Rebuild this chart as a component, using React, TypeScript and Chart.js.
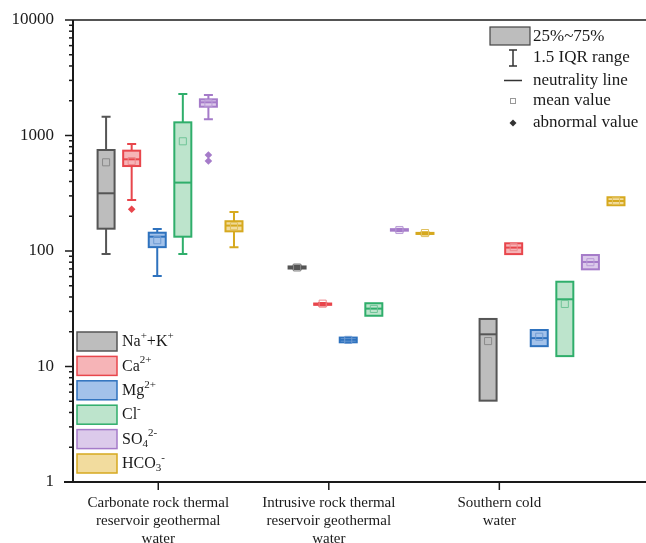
import React, { useEffect, useRef } from "react";
import { Chart, registerables } from "chart.js";

Chart.register(...registerables);

// ---------- DATA ----------
const categoryLines: string[][] = [
  ["Carbonate rock thermal", "reservoir geothermal", "water"],
  ["Intrusive rock thermal", "reservoir geothermal", "water"],
  ["Southern cold", "water"],
];
const categoryValues = [1, 2, 3];
const yTickValues = [1, 10, 100, 1000, 10000];
const yTickLabels = ["1", "10", "100", "1000", "10000"];

// legend label pieces: [text, mode]
const ionLabels: [string, string][][] = [
  [["Na", "n"], ["+", "sup"], ["+K", "n"], ["+", "sup"]],
  [["Ca", "n"], ["2+", "sup"]],
  [["Mg", "n"], ["2+", "sup"]],
  [["Cl", "n"], ["-", "sup"]],
  [["SO", "n"], ["4", "sub"], ["2-", "sup"]],
  [["HCO", "n"], ["3", "sub"], ["-", "sup"]],
];

// [min, q1, median, q3, max] per group
const naK = [[94, 156, 316, 749, 1455], [69.5, 70.5, 72, 73.5, 75], [5.06, 5.06, 19, 25.8, 25.8]];
const ca = [[277, 544, 622, 739, 844], [33.8, 34.2, 34.6, 35.1, 35.5], [94, 94, 107, 116.6, 116.6]];
const mg = [[60.8, 108, 133, 144, 155], [16.2, 16.2, 17, 17.8, 17.8], [15, 15, 17.6, 20.7, 20.7]];
const cl = [[94, 133, 391, 1300, 2290], [27.5, 27.5, 31.7, 35.3, 35.3], [12.3, 12.3, 38.2, 54.2, 54.2]];
const so4 = [[1381, 1775, 1938, 2057, 2243], [148.5, 150, 152, 154.5, 156], [69.4, 69.4, 80.3, 92.3, 92.3]];
const hco3 = [[108, 148, 166, 181, 218], [139, 140.5, 142, 143.5, 145], [249, 249, 271, 292, 292]];

const naKMean = [586, 72, 16.6];
const caMean = [601, 35, 108];
const mgMean = [124, 17, 18.1];
const clMean = [891, 31.5, 34.8];
const so4Mean = [1900, 152, 80];
const hco3Mean = [164, 143, 272];

// outliers: [groupIndex, value]
const naKOut: number[][] = [];
const caOut = [[0, 230]];
const mgOut: number[][] = [];
const clOut: number[][] = [];
const so4Out = [[0, 678], [0, 601]];
const hco3Out: number[][] = [];

const ionBoxes = [naK, ca, mg, cl, so4, hco3];
const ionMeans = [naKMean, caMean, mgMean, clMean, so4Mean, hco3Mean];
const ionOutliers = [naKOut, caOut, mgOut, clOut, so4Out, hco3Out];

// ---------- STYLE / LAYOUT ----------
const strokeColors = ["#555555", "#e8464c", "#2e72be", "#2fae6b", "#a57bc9", "#d6a91f"];
const fillColors = ["#bdbdbd", "#f6b4b7", "#a3c2ea", "#bde4cc", "#dccaeb", "#f2dc9e"];
const meanColors = ["#8a8a8a", "#ec8a8d", "#6f9bd3", "#6fc497", "#b99bd6", "#e0c05e"];
const BOX_START = [0.694, 1.814, 2.934];
const BOX_STEP = 0.15;
const SERIF = "'Liberation Serif','Times New Roman',serif";

const posX = (g: number, i: number) => BOX_START[g] + BOX_STEP * i;

function drawRich(ctx: CanvasRenderingContext2D, parts: [string, string][], x: number, y: number, size: number) {
  let cx = x;
  for (const [t, mode] of parts) {
    if (mode === "n") {
      ctx.font = `${size}px ${SERIF}`;
      ctx.fillText(t, cx, y);
    } else if (mode === "sup") {
      ctx.font = `${Math.round(size * 0.68)}px ${SERIF}`;
      ctx.fillText(t, cx, y - size * 0.38);
    } else {
      ctx.font = `${Math.round(size * 0.68)}px ${SERIF}`;
      ctx.fillText(t, cx, y + size * 0.28);
    }
    cx += ctx.measureText(t).width;
  }
}

const boxPlugin = {
  id: "boxes",
  beforeDatasetsDraw(chart: any) {
    const ctx: CanvasRenderingContext2D = chart.ctx;
    const xs = chart.scales.x;
    const ys = chart.scales.y;
    const BW = 17;
    const CW = 9;
    ctx.save();
    ionBoxes.forEach((groups, i) => {
      groups.forEach((b, g) => {
        const [mn, q1, md, q3, mx] = b;
        const x = xs.getPixelForValue(posX(g, i));
        const yMin = ys.getPixelForValue(mn);
        const yQ1 = ys.getPixelForValue(q1);
        const yMd = ys.getPixelForValue(md);
        const yQ3 = ys.getPixelForValue(q3);
        const yMax = ys.getPixelForValue(mx);
        ctx.strokeStyle = strokeColors[i];
        ctx.lineWidth = 2;
        if (mx > q3) {
          ctx.beginPath();
          ctx.moveTo(x, yQ3);
          ctx.lineTo(x, yMax);
          ctx.moveTo(x - CW / 2, yMax);
          ctx.lineTo(x + CW / 2, yMax);
          ctx.stroke();
        }
        if (mn < q1) {
          ctx.beginPath();
          ctx.moveTo(x, yQ1);
          ctx.lineTo(x, yMin);
          ctx.moveTo(x - CW / 2, yMin);
          ctx.lineTo(x + CW / 2, yMin);
          ctx.stroke();
        }
        ctx.fillStyle = fillColors[i];
        ctx.fillRect(x - BW / 2, yQ3, BW, yQ1 - yQ3);
        ctx.strokeRect(x - BW / 2, yQ3, BW, yQ1 - yQ3);
        ctx.beginPath();
        ctx.moveTo(x - BW / 2, yMd);
        ctx.lineTo(x + BW / 2, yMd);
        ctx.stroke();
      });
    });
    ctx.restore();
  },
  afterDraw(chart: any) {
    const ctx: CanvasRenderingContext2D = chart.ctx;
    const xs = chart.scales.x;
    const ys = chart.scales.y;
    const { left, right, top, bottom } = chart.chartArea;
    ctx.save();
    ctx.strokeStyle = "#1a1a1a";
    ctx.fillStyle = "#1a1a1a";
    ctx.lineWidth = 2;
    ctx.beginPath();
    ctx.moveTo(left, top);
    ctx.lineTo(left, bottom);
    ctx.moveTo(left - 9, bottom);
    ctx.lineTo(right, bottom);
    ctx.stroke();
    ctx.lineWidth = 1.5;
    ctx.beginPath();
    ctx.moveTo(left, top);
    ctx.lineTo(right, top);
    ctx.stroke();
    // y ticks
    ctx.lineWidth = 1.5;
    ctx.font = `17px ${SERIF}`;
    ctx.textAlign = "right";
    ctx.textBaseline = "middle";
    yTickValues.forEach((v, k) => {
      const y = ys.getPixelForValue(v);
      ctx.beginPath();
      ctx.moveTo(left - 8, y);
      ctx.lineTo(left, y);
      ctx.stroke();
      ctx.fillText(yTickLabels[k], left - 19, y);
      if (k < yTickValues.length - 1) {
        for (let m = 2; m <= 9; m++) {
          const ym = ys.getPixelForValue(v * m);
          ctx.beginPath();
          ctx.moveTo(left - 4, ym);
          ctx.lineTo(left, ym);
          ctx.stroke();
        }
      }
    });
    // x ticks & labels
    ctx.textAlign = "center";
    ctx.font = `15px ${SERIF}`;
    categoryValues.forEach((v, k) => {
      const x = xs.getPixelForValue(v);
      ctx.beginPath();
      ctx.moveTo(x, bottom);
      ctx.lineTo(x, bottom + 8);
      ctx.stroke();
      categoryLines[k].forEach((line, j) => {
        ctx.fillText(line, x, bottom + 21 + j * 18);
      });
    });
    // bottom-left legend
    ctx.textAlign = "left";
    ctx.textBaseline = "middle";
    for (let i = 0; i < ionLabels.length; i++) {
      const by = 332 + i * 24.4;
      ctx.fillStyle = fillColors[i];
      ctx.strokeStyle = strokeColors[i];
      ctx.lineWidth = 1.5;
      ctx.fillRect(77, by, 40, 19);
      ctx.strokeRect(77, by, 40, 19);
      ctx.fillStyle = "#1a1a1a";
      drawRich(ctx, ionLabels[i], 122, by + 10, 16);
    }
    // top-right legend
    ctx.fillStyle = "#bdbdbd";
    ctx.strokeStyle = "#444";
    ctx.lineWidth = 1.2;
    ctx.fillRect(490, 27, 40, 18);
    ctx.strokeRect(490, 27, 40, 18);
    ctx.strokeStyle = "#333";
    ctx.lineWidth = 1.5;
    ctx.beginPath();
    ctx.moveTo(513, 50);
    ctx.lineTo(513, 66);
    ctx.moveTo(509, 50);
    ctx.lineTo(517, 50);
    ctx.moveTo(509, 66);
    ctx.lineTo(517, 66);
    ctx.moveTo(504, 80.5);
    ctx.lineTo(522, 80.5);
    ctx.stroke();
    ctx.strokeStyle = "#999";
    ctx.lineWidth = 1;
    ctx.strokeRect(510.5, 98.5, 5, 5);
    ctx.fillStyle = "#333";
    ctx.beginPath();
    ctx.moveTo(513, 119.5);
    ctx.lineTo(516.5, 123);
    ctx.lineTo(513, 126.5);
    ctx.lineTo(509.5, 123);
    ctx.closePath();
    ctx.fill();
    ctx.fillStyle = "#1a1a1a";
    ctx.font = `17px ${SERIF}`;
    const legTexts = ["25%~75%", "1.5 IQR range", "neutrality line", "mean value", "abnormal value"];
    const legY = [37, 58, 80.5, 101, 123];
    legTexts.forEach((t, k) => ctx.fillText(t, 533, legY[k]));
    ctx.restore();
  },
};

export default function App() {
  const ref = useRef<HTMLCanvasElement | null>(null);
  useEffect(() => {
    if (!ref.current) return;
    const datasets: any[] = [];
    ionMeans.forEach((means, i) => {
      datasets.push({
        label: `mean${i}`,
        data: means.map((m, g) => ({ x: posX(g, i), y: m })),
        pointStyle: "rect",
        radius: 5,
        borderWidth: 1,
        borderColor: meanColors[i],
        backgroundColor: "rgba(0,0,0,0)",
      });
    });
    ionOutliers.forEach((outs, i) => {
      datasets.push({
        label: `out${i}`,
        data: outs.map(([g, v]) => ({ x: posX(g, i), y: v })),
        pointStyle: "rectRot",
        radius: 3.8,
        borderWidth: 0,
        backgroundColor: strokeColors[i],
      });
    });
    const chart = new Chart(ref.current, {
      type: "scatter",
      data: { datasets },
      plugins: [boxPlugin],
      options: {
        animation: false,
        responsive: false,
        devicePixelRatio: 1,
        layout: { autoPadding: false, padding: { left: 73, top: 20, right: 0, bottom: 61 } },
        plugins: { legend: { display: false }, tooltip: { enabled: false } },
        scales: {
          x: { type: "linear", display: false, min: 0.5, max: 3.86 },
          y: { type: "logarithmic", display: false, min: 1, max: 10000 },
        },
      },
    } as any);
    return () => chart.destroy();
  }, []);
  return (
    <div style={{ position: "absolute", left: 0, top: 0, width: 646, height: 543, background: "#fff" }}>
      <canvas ref={ref} width={646} height={543} style={{ display: "block" }} />
    </div>
  );
}
